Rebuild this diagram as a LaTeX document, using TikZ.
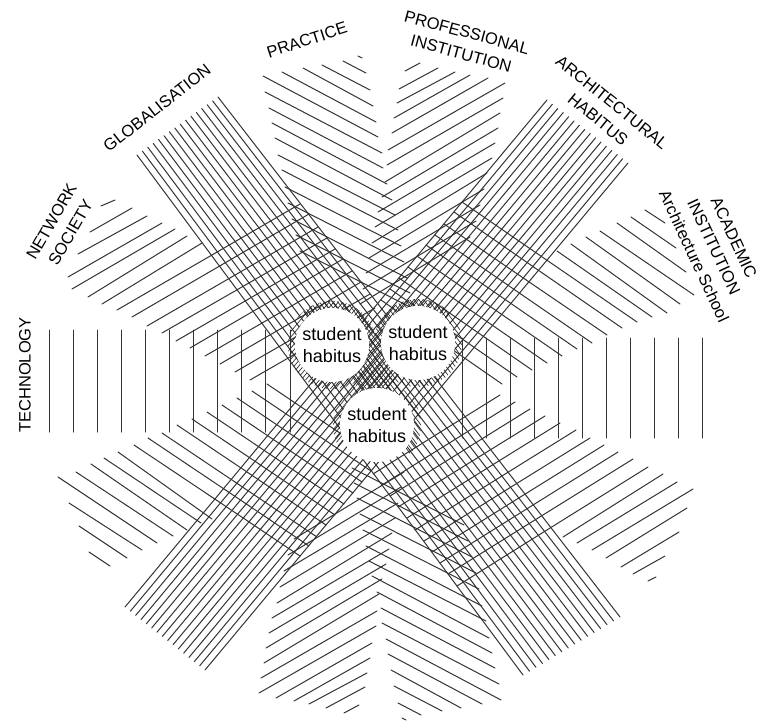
\documentclass[tikz,border=0pt]{standalone}
\usepackage{fontspec}
\setmainfont{Liberation Sans}
\begin{document}
\begin{tikzpicture}[x=1pt,y=-1pt,
  hl/.style={line width=1pt, draw=black!80, line cap=round},
  dl/.style={line width=0.65pt, draw=black!85},
  lab/.style={font=\fontsize{16.5}{22}\selectfont, align=center, inner sep=0pt},
  circ/.style={circle, fill=white, minimum size=74pt, inner sep=0pt, align=center, font=\fontsize{18}{22}\selectfont}]
\useasboundingbox (0,0) rectangle (760,723);

% TECHNOLOGY vertical hatching
\foreach \i in {0,...,10} {
  \draw[hl] ({49+24.1*\i},330) -- ({49+24.1*\i},432);
  \draw[hl] ({462+24*\i},338) -- ({462+24*\i},438);
}

% GLOBALISATION band
\foreach \i in {0,...,15} {
  \pgfmathsetmacro\t{\i/15}
  \draw[hl] ({137+81*\t},{155-58*\t}) -- ({523+97*\t},{675-58*\t});
}
% ARCHITECTURAL HABITUS band
\foreach \i in {0,...,15} {
  \pgfmathsetmacro\t{\i/15}
  \draw[hl] ({547+81*\t},{100+63*\t}) -- ({125+80*\t},{607+63*\t});
}

% NETWORK SOCIETY fan
\foreach \a/\b/\c/\d in {101/206/115/200, 90/232/132/208, 78/254/147/216, 68/277/162/223, 72/289/175/229, 88/297/187/236, 102/304/202/243, 117/310/300/204, 132/317/309/214, 147/326/318/227, 162/333/327/238, 176/341/335/249, 190/348/343/259, 205/356/352/271, 220/364/361/282, 235/372/370/294, 250/380/375/308}
  \draw[hl] (\a,\b) -- (\c,\d);

% ACADEMIC INSTITUTION fan
\foreach \a/\b/\c/\d in {645/210/665/223, 631/217/676/248, 617/223/686/272, 600/231/694/295, 586/237/680/304, 571/244/667/313, 557/251/652/317, 462/202/637/322, 454/212/622/328, 444/224/607/335, 435/235/592/343, 426/245/577/349, 417/256/562/356, 408/267/547/363, 399/278/532/370, 390/289/517/377, 381/300/502/384}
  \draw[hl] (\a,\b) -- (\c,\d);

% top chevron (PRACTICE / PROFESSIONAL INSTITUTION) and its point reflection
\foreach \rot in {0,180} {
\begin{scope}[rotate around={\rot:(382,388)}]
\foreach \a/\b/\c/\d in {358/56/362/58, 343/61/366/73, 322/65/370/90, 303/68/373/106, 282/72/376/122, 263/76/378/137, 265/92/382/153, 269/108/383/168, 272/123/387/184, 275/138/392/200, 278/155/395/215, 282/170/398/230, 285/187/401/246, 288/203/404/262, 292/219/407/278, 296/235/410/293, 300/251/412/308}
  \draw[hl] (\a,\b) -- (\c,\d);
\foreach \a/\b/\c/\d in {405/71/420/63, 399/89/438/68, 397/103/455/72, 394/118/470/75, 392/133/488/78, 388/150/505/83, 387/165/503/98, 385/182/500/113, 382/197/498/128, 378/212/495/143, 375/227/492/158, 372/243/487/173, 369/258/484/189, 366/273/480/205, 363/289/476/221, 360/304/470/237}
  \draw[hl] (\a,\b) -- (\c,\d);
\end{scope}
}

% lower-left fan
\foreach \a/\b/\c/\d in {89/552/110/566, 79/526/127/558, 69/503/142/550, 58/477/157/543, 76/472/173/536, 91/464/187/530, 104/458/201/523, 118/452/212/519, 134/445/300/556, 148/438/309/546, 162/433/317/537, 177/425/326/525, 192/419/335/515, 207/412/344/504, 222/405/353/493, 237/398/362/482, 252/391/371/471, 267/384/380/460}
  \draw[hl] (\a,\b) -- (\c,\d);

% lower-right fan
\foreach \a/\b/\c/\d in {648/581/656/577, 633/574/665/556, 621/567/679/532, 606/558/687/508, 592/550/693/489, 577/543/677/482, 563/537/663/474, 457/586/648/467, 448/574/633/459, 440/563/618/452, 432/552/604/445, 424/541/590/438, 415/530/576/430, 407/518/560/423, 398/507/545/416, 390/496/530/409, 382/485/515/402, 373/474/500/395}
  \draw[hl] (\a,\b) -- (\c,\d);

% dense mesh between and around the circles
\begin{scope}
  \clip (332,345) circle[radius=44] (418,343) circle[radius=44] (377,425) circle[radius=44] (376,372) circle[radius=24];
  \foreach \i in {0,...,55} {
    \draw[dl] ({220+4.6*\i},200) -- +(228,304);
    \draw[dl] ({290+4.6*\i},200) -- +(-250,300);
  }
\end{scope}

% student habitus circles
\node[circ] (s1) at (332,345) {student\\habitus};
\node[circ] (s2) at (418,343) {student\\habitus};
\node[circ] (s3) at (377,425) {student\\habitus};

% labels
\node[lab, rotate=90] (tech) at (25,375) {TECHNOLOGY};
\node[lab, rotate=60] (net) at (61,227) {NETWORK\\SOCIETY};
\node[lab, rotate=38] (glob) at (157,108) {GLOBALISATION};
\node[lab, rotate=18] (prac) at (307,40) {PRACTICE};
\node[lab, rotate=-15] (prof) at (464,43) {PROFESSIONAL\\INSTITUTION};
\node[lab, rotate=-39] (arch) at (605,111) {ARCHITECTURAL\\HABITUS};
\node[lab, rotate=-65] (acad) at (714,247) {ACADEMIC\\INSTITUTION\\Architecture School};
\end{tikzpicture}
\end{document}
